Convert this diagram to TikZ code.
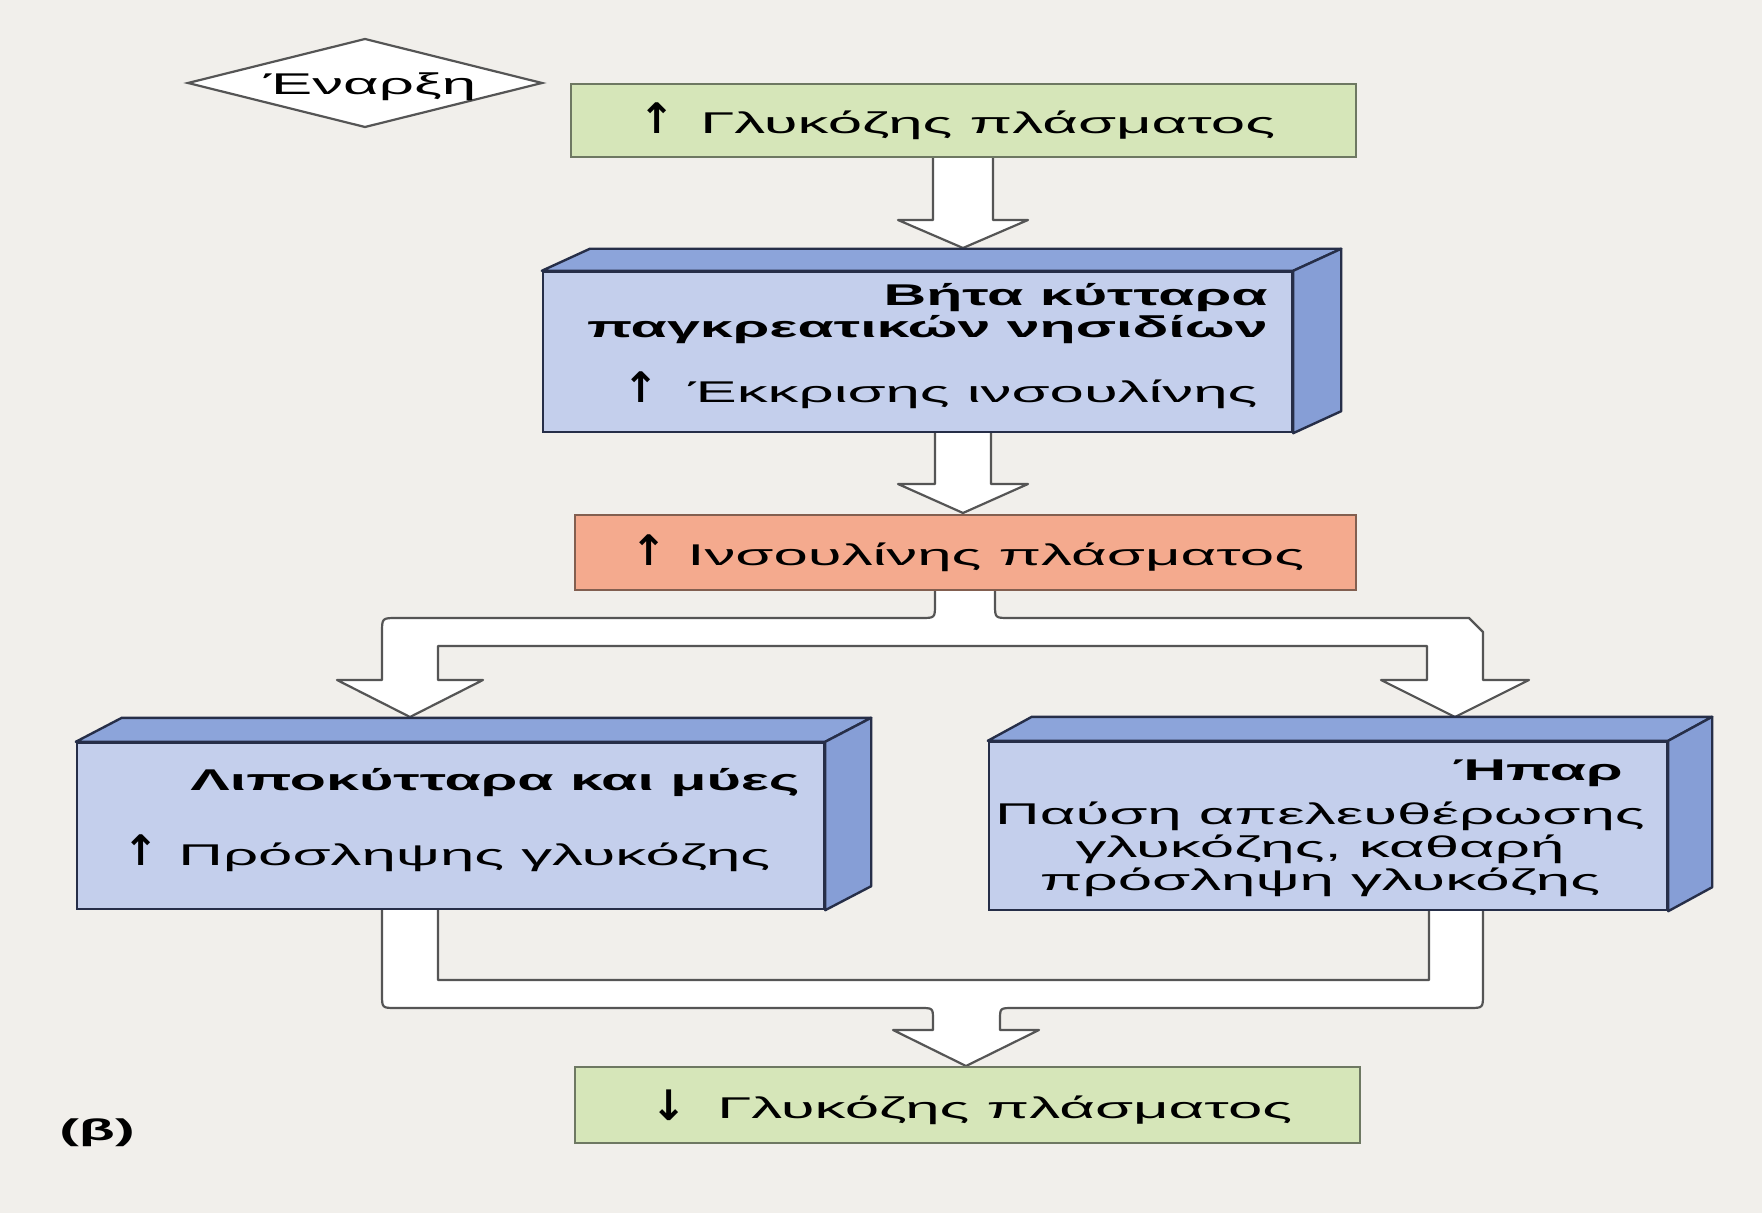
\documentclass[tikz,border=0pt]{standalone}
\usepackage{fontspec}
\setmainfont[FakeStretch=2.06]{Liberation Sans}
\newfontfamily\boldwide[FakeStretch=1.97]{Liberation Sans}
\newfontfamily\arrowfont{DejaVu Sans}
\usetikzlibrary{calc}
\definecolor{bgc}{RGB}{241,239,235}
\definecolor{gfill}{RGB}{214,230,185}
\definecolor{gline}{RGB}{110,120,98}
\definecolor{ofill}{RGB}{244,170,142}
\definecolor{oline}{RGB}{130,95,80}
\definecolor{bfront}{RGB}{196,207,236}
\definecolor{btop}{RGB}{140,164,218}
\definecolor{bside}{RGB}{134,158,214}
\definecolor{bline}{RGB}{38,46,72}
\definecolor{aline}{RGB}{85,85,85}
\begin{document}
\begin{tikzpicture}[x=0.5pt,y=-0.5pt,
 txt/.style={inner sep=0pt, font=\fontsize{15}{15}\selectfont},
 btxt/.style={inner sep=0pt, font=\fontsize{15}{15}\selectfont\boldwide\bfseries},
 arr/.style={inner sep=0pt, font=\fontsize{21}{21}\selectfont\arrowfont\bfseries},
 greenbox/.style={draw=gline, fill=gfill, line width=1.3pt, inner sep=0pt},
 orangebox/.style={draw=oline, fill=ofill, line width=1.3pt, inner sep=0pt},
 frontface/.style={draw=bline, fill=bfront, line width=1.2pt, inner sep=0pt},
 topface/.style={draw=bline, fill=btop, line width=1.2pt, line join=round},
 sideface/.style={draw=bline, fill=bside, line width=1.2pt, line join=round},
 blockarrow/.style={draw=aline, fill=white, line width=1.1pt, line join=round},
 diamondshape/.style={draw=aline, fill=white, line width=1.1pt, line join=miter},
]
\fill[bgc] (0,0) rectangle (1762,1213);
\useasboundingbox (0,0) rectangle (1762,1213);

% ---- block arrows (drawn first, boxes cover their ends)
\draw[blockarrow] (933,150) -- (933,220) -- (898,220) -- (963,248) -- (1028,220) -- (993,220) -- (993,150);
\draw[blockarrow] (935,425) -- (935,484) -- (898,484) -- (963,513) -- (1028,484) -- (991,484) -- (991,425);
\draw[blockarrow] (935,585) -- (935,604) .. controls (935,618) .. (921,618)
  -- (397,618) .. controls (382,618) .. (382,633)
  -- (382,680) -- (337,680) -- (410,717) -- (483,680) -- (438,680)
  -- (438,646) -- (1427,646) -- (1427,680) -- (1381,680) -- (1455,717) -- (1529,680) -- (1483,680)
  -- (1483,632) -- (1469,618) -- (1009,618) .. controls (995,618) .. (995,604) -- (995,585);
\draw[blockarrow] (382,900) -- (382,994) .. controls (382,1008) .. (396,1008) -- (920,1008)
  .. controls (933,1008) .. (933,1020) -- (933,1030) -- (893,1030) -- (966,1066) -- (1039,1030)
  -- (1000,1030) -- (1000,1020) .. controls (1000,1008) .. (1013,1008) -- (1469,1008)
  .. controls (1483,1008) .. (1483,994) -- (1483,900) -- (1429,900) -- (1429,980) -- (438,980) -- (438,900) -- cycle;

% ---- start diamond
\coordinate (dc) at (365,83);
\draw[diamondshape] (dc) ++(-177,0) -- ++(177,-44) -- ++(177,44) -- ++(-177,44) -- cycle;
\node[txt, anchor=base] (start) at (370,95) {Έναρξη};

% ---- top green box
\node[greenbox, minimum width=392.5pt, minimum height=36.5pt] (g1) at (963.5,120.5) {};
\node[arr, anchor=base] (a1) at (657,134) {↑};
\node[txt, anchor=base west] (t1) at (700,134) {Γλυκόζης πλάσματος};

% ---- beta cells box
\node[frontface, minimum width=374.5pt, minimum height=80pt] (b1) at (917.5,352) {};
\draw[topface] (b1.north west) -- ++(48,-22) -- ($(b1.north east)+(48,-22)$) -- (b1.north east) -- cycle;
\draw[sideface] (b1.north east) -- ++(48,-22) -- ($(b1.south east)+(48,-22)$) -- (b1.south east) -- cycle;
\node[btxt, anchor=base east] (t2) at (1268,306) {Βήτα κύτταρα};
\node[btxt, anchor=base east] (t3) at (1268,338) {παγκρεατικών νησιδίων};
\node[arr, anchor=base] (a2) at (641,403) {↑};
\node[txt, anchor=base east] (t4) at (1258,403) {Έκκρισης ινσουλίνης};

% ---- plasma insulin
\node[orangebox, minimum width=390.5pt, minimum height=37.5pt] (o1) at (965.5,552.5) {};
\node[arr, anchor=base] (a3) at (649,566) {↑};
\node[txt, anchor=base west] (t5) at (687,566) {Ινσουλίνης πλάσματος};

% ---- adipocytes and muscle
\node[frontface, minimum width=373.5pt, minimum height=83pt] (b2) at (450.5,826) {};
\draw[topface] (b2.north west) -- ++(46,-24) -- ($(b2.north east)+(46,-24)$) -- (b2.north east) -- cycle;
\draw[sideface] (b2.north east) -- ++(46,-24) -- ($(b2.south east)+(46,-24)$) -- (b2.south east) -- cycle;
\node[btxt, anchor=base east] (t6) at (800,790) {Λιποκύτταρα και μύες};
\node[arr, anchor=base] (a4) at (141,865) {↑};
\node[txt, anchor=base west] (t7) at (178,865) {Πρόσληψης γλυκόζης};

% ---- liver
\node[frontface, minimum width=339pt, minimum height=84pt] (b3) at (1328,826) {};
\draw[topface] (b3.north west) -- ++(44,-24) -- ($(b3.north east)+(44,-24)$) -- (b3.north east) -- cycle;
\draw[sideface] (b3.north east) -- ++(44,-24) -- ($(b3.south east)+(44,-24)$) -- (b3.south east) -- cycle;
\node[btxt, anchor=base east] (t8) at (1623,780) {Ήπαρ};
\node[txt, anchor=base] (t9) at (1320,824) {Παύση απελευθέρωσης};
\node[txt, anchor=base] (t10) at (1320,857) {γλυκόζης, καθαρή};
\node[txt, anchor=base] (t11) at (1320,890) {πρόσληψη γλυκόζης};

% ---- bottom green box
\node[greenbox, minimum width=392.5pt, minimum height=38pt] (g2) at (967.5,1105) {};
\node[arr, anchor=base] (a5) at (669,1120) {↓};
\node[txt, anchor=base west] (t12) at (717,1118) {Γλυκόζης πλάσματος};

% ---- panel label
\node[btxt, anchor=base] (lbl) at (97,1140) {(β)};
\end{tikzpicture}
\end{document}
